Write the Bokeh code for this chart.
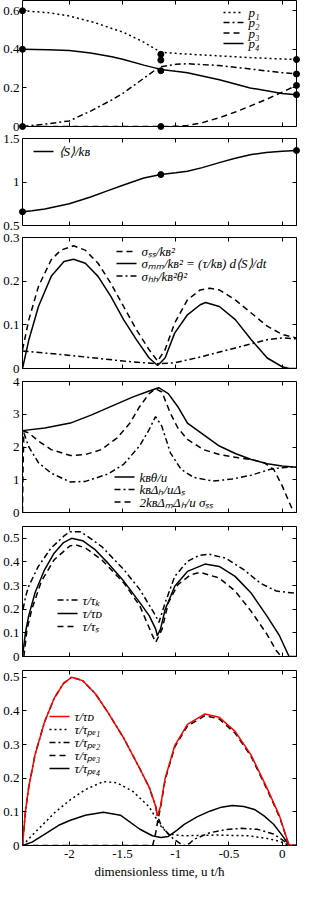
from bokeh.plotting import figure
from bokeh.models import Range1d, LinearAxis, FixedTicker, Label, Arrow
from bokeh.layouts import column
from bokeh.embed import file_html
from bokeh.resources import INLINE

FONT = "Liberation Serif"
DASH = "6 4"
DASHDOT = "6 3 2 3"
DOT = "2 3"
SOLID = "solid"
LW = 1.5

# ---------------- shared x axis ----------------
x_ticks = [-2, -1.5, -1, -0.5, 0]
x_tick_labels = ["-2", "-1.5", "-1", "-0.5", "0"]
x_axis_title = "dimensionless time, u t/ħ"

# ---------------- panel 1: probabilities ----------------
p1_x = [-2.44, -2.2, -2.0, -1.77, -1.6, -1.49, -1.3, -1.14, -1.0, -0.89, -0.59, -0.3, 0.0, 0.135]
p1_y = [0.600, 0.590, 0.573, 0.540, 0.508, 0.488, 0.437, 0.385, 0.379, 0.375, 0.366, 0.357, 0.350, 0.347]
p2_x = [-2.44, -2.23, -2.0, -1.8, -1.6, -1.49, -1.3, -1.2, -1.14, -1.0, -0.89, -0.59, -0.3, 0.0, 0.135]
p2_y = [0.0, 0.012, 0.029, 0.08, 0.138, 0.174, 0.25, 0.29, 0.31, 0.322, 0.325, 0.316, 0.298, 0.279, 0.272]
p3_x = [-2.44, -1.14, -1.0, -0.89, -0.75, -0.59, -0.44, -0.3, -0.15, 0.0, 0.135]
p3_y = [0.0, 0.0, 0.001, 0.005, 0.02, 0.046, 0.075, 0.106, 0.14, 0.178, 0.213]
p4_x = [-2.44, -2.2, -2.0, -1.8, -1.6, -1.49, -1.3, -1.14, -1.0, -0.89, -0.59, -0.3, 0.0, 0.135]
p4_y = [0.4, 0.398, 0.394, 0.381, 0.362, 0.347, 0.318, 0.296, 0.286, 0.279, 0.242, 0.2, 0.171, 0.165]
mk1_x = [-2.44, -2.44, -2.44, -1.14, -1.14, -1.14, -1.14, 0.135, 0.135, 0.135, 0.135]
mk1_y = [0.6, 0.4, 0.0, 0.374, 0.344, 0.289, 0.0, 0.347, 0.272, 0.213, 0.165]
p_labels = ["p₁", "p₂", "p₃", "p₄"]
p1_yticks = [0, 0.2, 0.4, 0.6]
p1_ylabels = ["0", "0.2", "0.4", "0.6"]

# ---------------- panel 2: entropy ----------------
s_x = [-2.44, -2.35, -2.23, -2.0, -1.8, -1.65, -1.49, -1.3, -1.14, -1.0, -0.89, -0.75, -0.59, -0.45, -0.3, -0.15, 0.0, 0.135]
s_y = [0.658, 0.67, 0.69, 0.749, 0.828, 0.895, 0.966, 1.045, 1.085, 1.105, 1.123, 1.165, 1.223, 1.27, 1.314, 1.34, 1.354, 1.362]
mk2_x = [-2.44, -1.14, 0.135]
mk2_y = [0.658, 1.085, 1.362]
s_labels = ["⟨S⟩/kʙ"]
p2_yticks = [0.5, 1, 1.5]
p2_ylabels = ["0.5", "1", "1.5"]

# ---------------- panel 3: fluctuations ----------------
ss_x = [-2.44, -2.38, -2.29, -2.17, -2.08, -1.96, -1.85, -1.73, -1.61, -1.49, -1.37, -1.25, -1.17, -1.10, -1.01, -0.89, -0.77, -0.68, -0.59, -0.44, -0.29, -0.14, 0.0, 0.135]
ss_y = [0.043, 0.112, 0.188, 0.249, 0.271, 0.281, 0.271, 0.241, 0.195, 0.142, 0.089, 0.043, 0.017, 0.043, 0.104, 0.157, 0.18, 0.184, 0.18, 0.157, 0.127, 0.097, 0.078, 0.07]
mm_x = [-2.44, -2.38, -2.29, -2.17, -2.05, -1.96, -1.85, -1.73, -1.61, -1.49, -1.37, -1.25, -1.17, -1.10, -1.01, -0.89, -0.77, -0.72, -0.59, -0.44, -0.29, -0.14, 0.0, 0.065, 0.135]
mm_y = [0.0, 0.066, 0.142, 0.211, 0.245, 0.25, 0.241, 0.211, 0.165, 0.112, 0.066, 0.024, 0.007, 0.024, 0.081, 0.123, 0.146, 0.151, 0.142, 0.112, 0.066, 0.024, 0.004, 0.0, 0.0]
hh_x = [-2.44, -1.99, -1.49, -1.19, -1.01, -0.74, -0.44, -0.14, 0.0, 0.135]
hh_y = [0.04, 0.03, 0.017, 0.011, 0.013, 0.028, 0.047, 0.066, 0.07, 0.068]
sig_labels = ["σₛₛ/kʙ²", "σₘₘ/kʙ² = (τ/kʙ) d⟨S⟩/dt", "σₕₕ/kʙ²θ²"]
p3_yticks = [0, 0.1, 0.2, 0.3]
p3_ylabels = ["0", "0.1", "0.2", "0.3"]

# ---------------- panel 4: temperatures ----------------
th_x = [-2.44, -2.23, -1.99, -1.79, -1.58, -1.40, -1.25, -1.16, -1.07, -0.98, -0.89, -0.74, -0.59, -0.44, -0.29, -0.14, 0.0, 0.135]
th_y = [2.5, 2.58, 2.73, 2.98, 3.28, 3.53, 3.71, 3.81, 3.63, 3.23, 2.73, 2.38, 2.03, 1.80, 1.62, 1.49, 1.42, 1.38]
dh_x = [-2.427, -2.38, -2.29, -2.17, -1.99, -1.85, -1.64, -1.49, -1.34, -1.25, -1.19, -1.13, -1.05, -0.95, -0.83, -0.65, -0.47, -0.29, -0.11, 0.0, 0.135]
dh_y = [2.43, 2.0, 1.52, 1.2, 0.93, 0.95, 1.17, 1.47, 2.03, 2.53, 2.93, 2.63, 1.82, 1.32, 1.07, 0.96, 1.02, 1.14, 1.32, 1.37, 1.40]
dm_x = [-2.44, -2.435, -2.427, -2.38, -2.29, -2.17, -1.99, -1.85, -1.70, -1.55, -1.43, -1.34, -1.25, -1.19, -1.13, -1.05, -0.98, -0.89, -0.74, -0.59, -0.41, -0.29, -0.17, -0.08, 0.0, 0.065, 0.11]
dm_y = [0.0, 1.3, 2.48, 2.43, 2.18, 1.92, 1.74, 1.77, 1.92, 2.28, 2.73, 3.23, 3.63, 3.78, 3.68, 3.03, 2.58, 2.23, 1.92, 1.77, 1.67, 1.62, 1.52, 1.32, 0.82, 0.32, 0.0]
temp_labels = ["kʙθ/u", "kʙΔₕ/uΔₛ", "2kʙΔₘΔₕ/u σₛₛ"]
p4_yticks = [0, 1, 2, 3, 4]
p4_ylabels = ["0", "1", "2", "3", "4"]

# ---------------- panel 5: rates ----------------
tD_x = [-2.44, -2.412, -2.382, -2.322, -2.233, -2.143, -2.054, -1.979, -1.875, -1.755, -1.636, -1.487, -1.337, -1.248, -1.188, -1.173, -1.143, -1.099, -1.009, -0.89, -0.725, -0.591, -0.442, -0.294, -0.144, -0.025, 0.065, 0.135]
tD_y = [0.0, 0.102, 0.172, 0.27, 0.367, 0.437, 0.482, 0.5, 0.49, 0.451, 0.395, 0.318, 0.228, 0.172, 0.116, 0.088, 0.116, 0.2, 0.297, 0.36, 0.391, 0.381, 0.339, 0.27, 0.172, 0.088, 0.0, 0.0]
tK_x = [-2.435, -2.41, -2.382, -2.293, -2.173, -2.05, -1.994, -1.9, -1.845, -1.695, -1.487, -1.337, -1.188, -1.158, -1.099, -1.009, -0.89, -0.78, -0.69, -0.531, -0.353, -0.204, -0.055, 0.135]
tK_y = [0.2, 0.255, 0.297, 0.38, 0.458, 0.51, 0.528, 0.528, 0.514, 0.465, 0.367, 0.283, 0.172, 0.144, 0.228, 0.339, 0.402, 0.428, 0.433, 0.416, 0.365, 0.31, 0.277, 0.267]
tS_x = [-2.427, -2.397, -2.352, -2.263, -2.143, -1.994, -1.935, -1.845, -1.695, -1.487, -1.337, -1.218, -1.188, -1.128, -1.069, -0.979, -0.86, -0.77, -0.591, -0.442, -0.294, -0.144, -0.055, -0.01]
tS_y = [0.0, 0.116, 0.2, 0.318, 0.409, 0.468, 0.472, 0.458, 0.409, 0.311, 0.214, 0.088, 0.06, 0.116, 0.228, 0.304, 0.346, 0.356, 0.332, 0.277, 0.193, 0.095, 0.025, 0.0]
rate_labels = ["τ/τₖ", "τ/τᴅ", "τ/τₛ"]
p5_yticks = [0, 0.1, 0.2, 0.3, 0.4, 0.5]
p5_ylabels = ["0", "0.1", "0.2", "0.3", "0.4", "0.5"]

# ---------------- panel 6: partial rates ----------------
e1_x = [-2.44, -2.35, -2.24, -2.14, -1.99, -1.85, -1.68, -1.55, -1.40, -1.25, -1.14, -1.07, -0.92, -0.62, -0.32, -0.14, -0.02, 0.07, 0.135]
e1_y = [0.0, 0.03, 0.065, 0.097, 0.136, 0.166, 0.19, 0.186, 0.16, 0.115, 0.058, 0.034, 0.029, 0.031, 0.029, 0.021, 0.012, 0.0, 0.0]
e2_x = [-2.44, -2.412, -2.382, -2.322, -2.233, -2.143, -2.054, -1.979, -1.875, -1.755, -1.636, -1.487, -1.337, -1.248, -1.188, -1.173, -1.143, -1.10, -1.03, -0.96, -0.92, -0.87, -0.83, -0.77, -0.68, -0.53, -0.38, -0.23, -0.08, 0.02, 0.07, 0.135]
e2_y = [0.0, 0.102, 0.172, 0.27, 0.367, 0.437, 0.482, 0.5, 0.49, 0.451, 0.395, 0.318, 0.228, 0.172, 0.116, 0.088, 0.065, 0.045, 0.022, 0.006, 0.0, 0.006, 0.018, 0.026, 0.038, 0.047, 0.051, 0.048, 0.034, 0.013, 0.0, 0.0]
e3_x = [-2.44, -1.217, -1.19, -1.165, -1.143, -1.099, -1.009, -0.89, -0.725, -0.591, -0.442, -0.294, -0.144, -0.025, 0.065, 0.135]
e3_y = [0.0, 0.0, 0.035, 0.08, 0.112, 0.196, 0.293, 0.355, 0.386, 0.376, 0.334, 0.266, 0.168, 0.085, 0.0, 0.0]
e4_x = [-2.44, -2.35, -2.23, -2.1, -1.99, -1.85, -1.68, -1.52, -1.34, -1.22, -1.14, -1.07, -0.99, -0.92, -0.8, -0.68, -0.57, -0.47, -0.36, -0.26, -0.17, -0.08, 0.0, 0.069, 0.135]
e4_y = [0.0, 0.01, 0.034, 0.06, 0.075, 0.09, 0.099, 0.09, 0.049, 0.029, 0.024, 0.027, 0.045, 0.063, 0.085, 0.102, 0.114, 0.119, 0.116, 0.107, 0.088, 0.063, 0.03, 0.0, 0.0]
part_labels = ["τ/τᴅ", "τ/τₚₑ₁", "τ/τₚₑ₂", "τ/τₚₑ₃", "τ/τₚₑ₄"]
p6_yticks = [0, 0.1, 0.2, 0.3, 0.4, 0.5]
p6_ylabels = ["0", "0.1", "0.2", "0.3", "0.4", "0.5"]

xr = Range1d(-2.44, 0.135)


def overrides(ticks, labels):
    return {(int(t) if float(t).is_integer() else float(t)): l for t, l in zip(ticks, labels)}


def style_axis(ax, ticks, labels, show):
    ax.ticker = FixedTicker(ticks=ticks)
    ax.major_label_overrides = overrides(ticks, labels)
    ax.axis_line_color = None
    ax.major_tick_in = 4
    ax.major_tick_out = 0
    ax.major_tick_line_color = "black"
    ax.major_tick_line_width = 1
    ax.minor_tick_line_color = None
    ax.major_label_text_font = FONT
    ax.major_label_text_font_size = "13px"
    if show:
        ax.major_label_text_color = "black"
        ax.major_label_standoff = 3
    else:
        ax.major_label_text_color = None
        ax.major_label_standoff = 0


def make_fig(height, ylim, yticks, ylabels, top, bottom, last=False):
    p = figure(width=300, height=height, x_range=xr, y_range=Range1d(*ylim),
               output_backend="svg", toolbar_location=None,
               min_border_left=21, min_border_right=4,
               min_border_top=top, min_border_bottom=bottom)
    p.grid.visible = False
    p.outline_line_color = "black"
    p.outline_line_width = 1
    p.outline_line_alpha = 1
    xa = p.below[0]
    ya = p.left[0]
    style_axis(xa, x_ticks, x_tick_labels, last)
    style_axis(ya, yticks, ylabels, True)
    top_ax = LinearAxis()
    style_axis(top_ax, x_ticks, x_tick_labels, False)
    p.add_layout(top_ax, "above")
    right_ax = LinearAxis()
    style_axis(right_ax, yticks, ylabels, False)
    p.add_layout(right_ax, "right")
    if last:
        xa.axis_label = x_axis_title
        xa.axis_label_text_font = FONT
        xa.axis_label_text_font_style = "normal"
        xa.axis_label_text_font_size = "13px"
        xa.axis_label_text_color = "black"
        xa.axis_label_standoff = 3
        xa.major_label_standoff = 4
    return p


def legend(p, styles, labels, x0, rows, sample_w=20, gap=5):
    # styles: list of (color, dash); rows: y of each row centre, screen px from frame bottom
    for (color, dash), text, y in zip(styles, labels, rows):
        p.add_layout(Arrow(end=None, x_start=x0, y_start=y, x_end=x0 + sample_w, y_end=y,
                           start_units="screen", end_units="screen",
                           line_color=color, line_width=LW, line_dash=dash))
        p.add_layout(Label(x=x0 + sample_w + gap, y=y, x_units="screen", y_units="screen",
                           text=text, text_baseline="middle", text_align="left",
                           text_font=FONT, text_font_style="italic",
                           text_font_size="13px", text_color="black"))


# panel 1
f1 = make_fig(132, (0, 0.653), p1_yticks, p1_ylabels, 0, 6)
f1.line(p1_x, p1_y, line_color="black", line_width=LW, line_dash=DOT)
f1.line(p2_x, p2_y, line_color="black", line_width=LW, line_dash=DASHDOT)
f1.line(p3_x, p3_y, line_color="black", line_width=LW, line_dash=DASH)
f1.line(p4_x, p4_y, line_color="black", line_width=LW)
f1.scatter(mk1_x, mk1_y, size=6, color="black", level="overlay")
legend(f1, [("black", DOT), ("black", DASHDOT), ("black", DASH), ("black", SOLID)],
       p_labels, 201, [114, 104, 93.5, 83])

# panel 2
f2 = make_fig(99, (0.5, 1.5), p2_yticks, p2_ylabels, 6, 6)
f2.line(s_x, s_y, line_color="black", line_width=LW)
f2.scatter(mk2_x, mk2_y, size=6, color="black", level="overlay")
legend(f2, [("black", SOLID)], s_labels, 11, [74])

# panel 3
f3 = make_fig(143, (0, 0.3), p3_yticks, p3_ylabels, 6, 6)
f3.line(ss_x, ss_y, line_color="black", line_width=LW, line_dash=DASH)
f3.line(mm_x, mm_y, line_color="black", line_width=LW)
f3.line(hh_x, hh_y, line_color="black", line_width=LW, line_dash=DASHDOT)
legend(f3, [("black", DASH), ("black", SOLID), ("black", DASHDOT)],
       sig_labels, 94, [117, 105, 92.5])

# panel 4
f4 = make_fig(144, (0, 4), p4_yticks, p4_ylabels, 7, 6)
f4.line(th_x, th_y, line_color="black", line_width=LW)
f4.line(dh_x, dh_y, line_color="black", line_width=LW, line_dash=DASHDOT)
f4.line(dm_x, dm_y, line_color="black", line_width=LW, line_dash=DASH)
legend(f4, [("black", SOLID), ("black", DASHDOT), ("black", DASH)],
       temp_labels, 92, [35.5, 23, 10.5])

# panel 5
f5 = make_fig(144, (0, 0.55), p5_yticks, p5_ylabels, 8, 6)
f5.line(tK_x, tK_y, line_color="black", line_width=LW, line_dash=DASHDOT)
f5.line(tD_x, tD_y, line_color="black", line_width=LW)
f5.line(tS_x, tS_y, line_color="black", line_width=LW, line_dash=DASH)
legend(f5, [("black", DASHDOT), ("black", SOLID), ("black", DASH)],
       rate_labels, 35, [56.5, 43, 30])

# panel 6
f6 = make_fig(219, (0, 0.52), p6_yticks, p6_ylabels, 8, 35, last=True)
f6.line(e1_x, e1_y, line_color="black", line_width=LW, line_dash=DOT)
f6.line(e2_x, e2_y, line_color="black", line_width=LW, line_dash=DASHDOT)
f6.line(e3_x, e3_y, line_color="black", line_width=LW, line_dash=DASH)
f6.line(e4_x, e4_y, line_color="black", line_width=LW)
f6.line(tD_x, tD_y, line_color="red", line_width=LW)
legend(f6, [("red", SOLID), ("black", DOT), ("black", DASHDOT), ("black", DASH), ("black", SOLID)],
       part_labels, 27, [129, 116, 103, 90, 77])

layout = column(f1, f2, f3, f4, f5, f6)
open("out.html", "w").write(file_html(layout, INLINE))
